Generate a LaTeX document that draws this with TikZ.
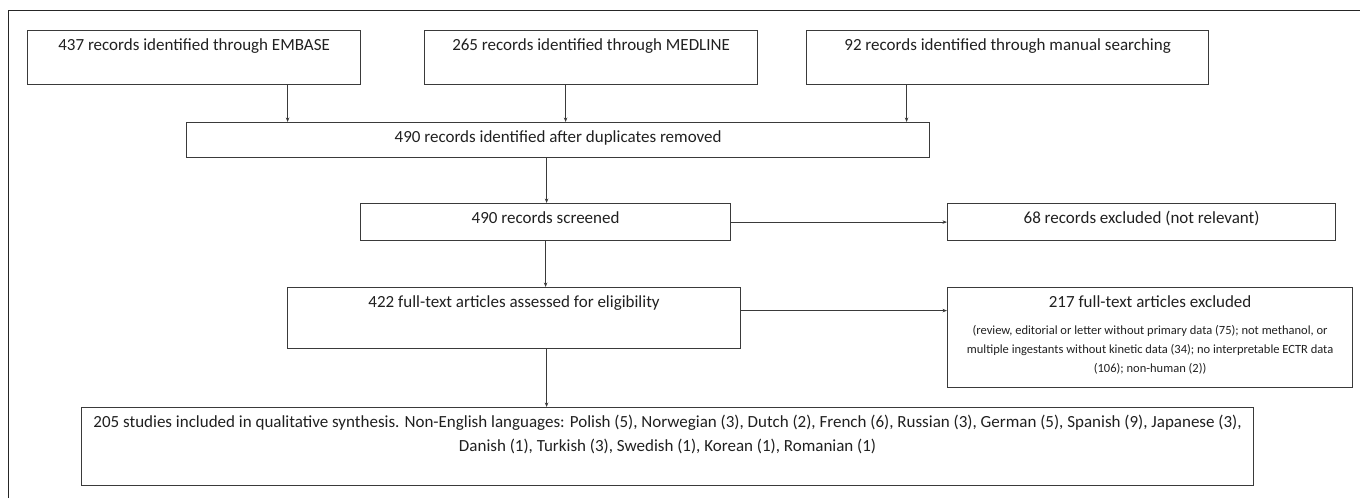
\documentclass[tikz,border=0pt]{standalone}
\usepackage{fontspec}
\setmainfont{Carlito}
\usetikzlibrary{arrows.meta}
\definecolor{boxline}{HTML}{3A3A3A}
\definecolor{boxtext}{HTML}{202020}
\newcommand{\flowtext}[3]{\parbox[t][#2][t]{#1}{\centering\rule{0pt}{20pt}#3}}
\tikzset{
    flow-box/.style = {draw=boxline, line width=1.2pt, rectangle, inner sep=0pt, anchor=north west, text=boxtext, font=\fontsize{17}{20.5}\selectfont},
    flow-arrow/.style = {draw=boxline, line width=0.9pt, -{Stealth[length=4.5pt,width=3.5pt]}},
    frame-line/.style = {draw=black!85, line width=1pt},
}

\begin{document}
\begin{tikzpicture}[x=1pt,y=-1pt]
\useasboundingbox (0,0) rectangle (1360,498);
\draw[frame-line] (8,498) -- (8,10) -- (1360,10);

\node[flow-box] (embase) at (27,30) {\flowtext{333pt}{54pt}{437 records identified through EMBASE}};
\node[flow-box] (medline) at (424,30) {\flowtext{333pt}{54pt}{265 records identified through MEDLINE}};
\node[flow-box] (manual) at (806,30) {\flowtext{402pt}{54pt}{92 records identified through manual searching}};
\node[flow-box] (dedup) at (186,122) {\flowtext{743pt}{35pt}{490 records identified after duplicates removed}};
\node[flow-box] (screened) at (360,203) {\flowtext{370pt}{37pt}{490 records screened}};
\node[flow-box] (excluded) at (947,203) {\flowtext{388pt}{37pt}{68 records excluded (not relevant)}};
\node[flow-box] (fulltext) at (287,287) {\flowtext{453pt}{61pt}{422 full-text articles assessed for eligibility}};
\node[flow-box] (ftexcluded) at (947,287) {\flowtext{405pt}{100pt}{217 full-text articles excluded\par\vspace{8pt}
    {\fontsize{12.5}{19}\selectfont (review, editorial or letter without primary data (75); not methanol, or\\
    multiple ingestants without kinetic data (34); no interpretable ECTR data\\
    (106); non-human (2))\par}}};
\node[flow-box, font=\fontsize{17}{24}\selectfont] (included) at (81,407) {\flowtext{1172pt}{78pt}{205 studies included in qualitative synthesis. Non-English languages: Polish (5), Norwegian (3), Dutch (2), French (6), Russian (3), German (5), Spanish (9), Japanese (3),\\
    Danish (1), Turkish (3), Swedish (1), Korean (1), Romanian (1)}};

\draw[flow-arrow] ([xshift=93.5pt]embase.south) -- ([xshift=93.5pt]embase.south |- dedup.north);
\draw[flow-arrow] ([xshift=-25.5pt]medline.south) -- ([xshift=-25.5pt]medline.south |- dedup.north);
\draw[flow-arrow] ([xshift=-101pt]manual.south) -- ([xshift=-101pt]manual.south |- dedup.north);
\draw[flow-arrow] ([xshift=-11.5pt]dedup.south) -- ([xshift=-11.5pt]dedup.south |- screened.north);
\draw[flow-arrow] (screened.east) -- (screened.east -| excluded.west);
\draw[flow-arrow] (screened.south) -- (screened.south |- fulltext.north);
\draw[flow-arrow] ([yshift=7.5pt]fulltext.east) -- ([yshift=7.5pt]fulltext.east -| ftexcluded.west);
\draw[flow-arrow] ([xshift=32.5pt]fulltext.south) -- ([xshift=32.5pt]fulltext.south |- included.north);
\end{tikzpicture}
\end{document}
